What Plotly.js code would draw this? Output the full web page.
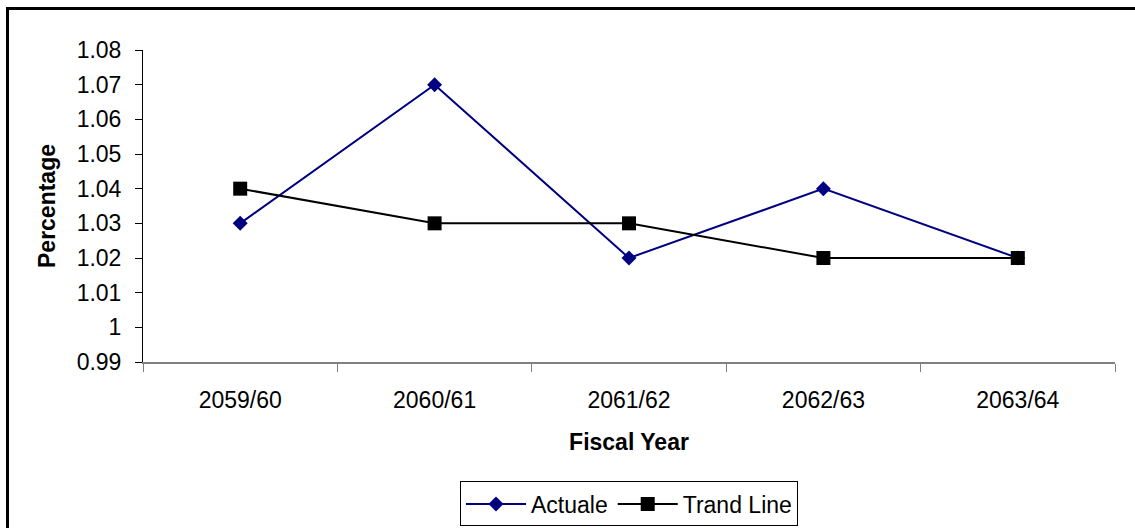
<!DOCTYPE html>
<html>
<head>
<meta charset="utf-8">
<script src="https://cdn.plot.ly/plotly-3.0.1.min.js"></script>
<style>
html,body{margin:0;padding:0;background:#fff;}
#wrap{position:relative;width:1135px;height:528px;overflow:hidden;}
#chart{position:absolute;left:0;top:0;width:1135px;height:528px;}
#frame{position:absolute;left:6px;top:7px;width:1140px;height:540px;border:3px solid #000;pointer-events:none;}
</style>
</head>
<body>
<div id="wrap"><div id="chart"></div><div id="frame"></div></div>
<script>
const years = ["2059/60", "2060/61", "2061/62", "2062/63", "2063/64"];
const actuale = [1.03, 1.07, 1.02, 1.04, 1.02];
const trandLine = [1.04, 1.03, 1.03, 1.02, 1.02];
const yTickVals = [0.99, 1.00, 1.01, 1.02, 1.03, 1.04, 1.05, 1.06, 1.07, 1.08];
const yTickText = ["0.99", "1", "1.01", "1.02", "1.03", "1.04", "1.05", "1.06", "1.07", "1.08"];

const FONT = "Liberation Sans, Arial, sans-serif";

const traces = [
  {
    x: years, y: actuale, name: "Actuale", type: "scatter", mode: "lines+markers",
    line: {color: "#000080", width: 2},
    marker: {symbol: "diamond", size: 11.5, color: "#000080"}
  },
  {
    x: years, y: trandLine, name: "Trand Line", type: "scatter", mode: "lines+markers",
    line: {color: "#000000", width: 2},
    marker: {symbol: "square", size: 14, color: "#000000"}
  }
];

const layout = {
  width: 1135, height: 528,
  margin: {l: 143, r: 20, t: 50, b: 166, autoexpand: false},
  paper_bgcolor: "rgba(0,0,0,0)",
  plot_bgcolor: "#ffffff",
  font: {family: FONT, size: 23, color: "#000"},
  showlegend: true,
  legend: {
    orientation: "h", x: 0.5, xanchor: "center", y: -0.383, yanchor: "top",
    bordercolor: "#000", borderwidth: 1, font: {family: FONT, size: 23, color: "#000"},
    itemwidth: 60, tracegroupgap: 0
  },
  xaxis: {
    type: "category",
    range: [-0.5, 4.5],
    showgrid: false, zeroline: false,
    showline: true, linecolor: "#808080", linewidth: 1.5,
    ticks: "outside", tickson: "boundaries", ticklen: 8, tickcolor: "#808080", tickwidth: 1,
    tickfont: {family: FONT, size: 23, color: "#000"},
    ticklabelstandoff: 17,
    title: {text: "<b>Fiscal Year</b>", font: {family: FONT, size: 23, color: "#000"}, standoff: 22},
    automargin: false
  },
  yaxis: {
    range: [0.99, 1.08],
    tickvals: yTickVals, ticktext: yTickText,
    showgrid: false, zeroline: false,
    showline: true, linecolor: "#000", linewidth: 1,
    ticks: "outside", ticklen: 7, tickcolor: "#000", tickwidth: 1,
    tickfont: {family: FONT, size: 23, color: "#000"},
    ticklabelstandoff: 9,
    title: {text: "<b>Percentage</b>", font: {family: FONT, size: 23, color: "#000"}, standoff: 14},
    automargin: false
  }
};

Plotly.newPlot("chart", traces, layout, {displayModeBar: false, staticPlot: true});
</script>
</body>
</html>
